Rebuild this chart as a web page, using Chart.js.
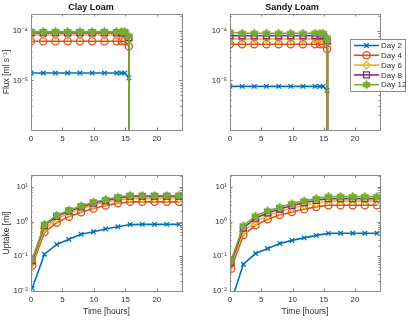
<!DOCTYPE html>
<html>
<head>
<meta charset="utf-8">
<script src="https://cdn.jsdelivr.net/npm/chart.js@4.4.0/dist/chart.umd.min.js"></script>
<style>
  html, body { margin: 0; padding: 0; background: #fff; }
  #wrap { position: relative; width: 408px; height: 321px; overflow: hidden; }
  canvas { position: absolute; }
</style>
</head>
<body>
<div id="wrap">
  <canvas id="fluxClay" width="204" height="160" style="left:0;top:0"></canvas>
  <canvas id="fluxSandy" width="204" height="160" style="left:204px;top:0"></canvas>
  <canvas id="uptakeClay" width="204" height="161" style="left:0;top:160px"></canvas>
  <canvas id="uptakeSandy" width="204" height="161" style="left:204px;top:160px"></canvas>
</div>
<script>
// ---- data ----
const dayLabels = ['Day 2', 'Day 4', 'Day 6', 'Day 8', 'Day 12'];
const xTickValues = [0, 5, 10, 15, 20];
const fluxTickValues = [1e-5, 1e-4];
const uptakeTickValues = [1e-2, 1e-1, 1, 10];

// hours; last entry is where the flux falls to zero
const fluxTimes = [0, 1.94, 3.89, 5.83, 7.78, 9.72, 11.67, 13.61, 14.4, 14.9, 15.55, 15.6];
const uptakeTimes = [0.19, 2.14, 4.08, 6.03, 7.97, 9.92, 11.86, 13.81, 15.75, 17.69, 19.64, 21.58, 23.53];

// flux [ml/s], clay loam
const clayFluxDay2  = [1.42e-5, 1.42e-5, 1.42e-5, 1.42e-5, 1.42e-5, 1.42e-5, 1.42e-5, 1.42e-5, 1.42e-5, 1.42e-5, 1.13e-5, 1e-9];
const clayFluxDay4  = [6.2e-5, 6.2e-5, 6.2e-5, 6.2e-5, 6.2e-5, 6.2e-5, 6.2e-5, 6.2e-5, 6.2e-5, 6.2e-5, 4.9e-5, 1e-9];
const clayFluxDay6  = [8.3e-5, 8.3e-5, 8.3e-5, 8.3e-5, 8.3e-5, 8.3e-5, 8.3e-5, 8.3e-5, 8.3e-5, 8.3e-5, 6.6e-5, 1e-9];
const clayFluxDay8  = [9.1e-5, 9.1e-5, 9.1e-5, 9.1e-5, 9.1e-5, 9.1e-5, 9.1e-5, 9.1e-5, 9.1e-5, 9.1e-5, 7.3e-5, 1e-9];
const clayFluxDay12 = [9.7e-5, 9.7e-5, 9.7e-5, 9.7e-5, 9.7e-5, 9.7e-5, 9.7e-5, 9.7e-5, 9.7e-5, 9.7e-5, 7.9e-5, 1e-9];

// flux [ml/s], sandy loam
const sandyFluxDay2  = [7.6e-6, 7.6e-6, 7.6e-6, 7.6e-6, 7.6e-6, 7.6e-6, 7.6e-6, 7.6e-6, 7.6e-6, 7.6e-6, 6.3e-6, 1e-9];
const sandyFluxDay4  = [5.4e-5, 5.4e-5, 5.4e-5, 5.4e-5, 5.4e-5, 5.4e-5, 5.4e-5, 5.4e-5, 5.4e-5, 5.4e-5, 4.3e-5, 1e-9];
const sandyFluxDay6  = [6.9e-5, 6.9e-5, 6.9e-5, 6.9e-5, 6.9e-5, 6.9e-5, 6.9e-5, 6.9e-5, 6.9e-5, 6.9e-5, 5.5e-5, 1e-9];
const sandyFluxDay8  = [8.0e-5, 8.0e-5, 8.0e-5, 8.0e-5, 8.0e-5, 8.0e-5, 8.0e-5, 8.0e-5, 8.0e-5, 8.0e-5, 6.3e-5, 1e-9];
const sandyFluxDay12 = [9.5e-5, 9.0e-5, 9.0e-5, 9.0e-5, 9.0e-5, 9.0e-5, 9.0e-5, 9.0e-5, 9.0e-5, 9.0e-5, 7.2e-5, 1e-9];

// cumulative uptake [ml], clay loam
const clayUptakeDay2  = [0.012, 0.115, 0.22, 0.31, 0.43, 0.51, 0.61, 0.71, 0.82, 0.83, 0.83, 0.83, 0.83];
const clayUptakeDay4  = [0.054, 0.49, 0.93, 1.39, 1.86, 2.37, 2.89, 3.39, 3.70, 3.70, 3.70, 3.70, 3.70];
const clayUptakeDay6  = [0.065, 0.62, 1.22, 1.75, 2.35, 3.0, 3.6, 4.2, 4.6, 4.6, 4.6, 4.6, 4.6];
const clayUptakeDay8  = [0.075, 0.76, 1.42, 2.0, 2.65, 3.4, 4.05, 4.75, 5.3, 5.3, 5.3, 5.3, 5.3];
const clayUptakeDay12 = [0.081, 0.84, 1.52, 2.13, 2.83, 3.62, 4.31, 5.06, 5.63, 5.63, 5.63, 5.63, 5.63];

// cumulative uptake [ml], sandy loam
const sandyUptakeDay2  = [0.005, 0.059, 0.12, 0.168, 0.235, 0.287, 0.34, 0.40, 0.458, 0.46, 0.46, 0.46, 0.46];
const sandyUptakeDay4  = [0.044, 0.41, 0.78, 1.17, 1.55, 1.90, 2.27, 2.65, 2.97, 2.97, 2.97, 2.97, 2.97];
const sandyUptakeDay6  = [0.055, 0.52, 1.0, 1.48, 1.95, 2.45, 2.95, 3.45, 3.9, 3.9, 3.9, 3.9, 3.9];
const sandyUptakeDay8  = [0.066, 0.65, 1.25, 1.78, 2.3, 2.9, 3.5, 4.1, 4.6, 4.6, 4.6, 4.6, 4.6];
const sandyUptakeDay12 = [0.077, 0.76, 1.45, 2.03, 2.6, 3.3, 3.95, 4.61, 5.27, 5.27, 5.27, 5.27, 5.27];

// ---- styling ----
const FONT = "'Liberation Sans', Arial, sans-serif";
const TEXT = '#303030';
const colors = ['#0072BD', '#D95319', '#EDB120', '#7E2F8E', '#77AC30'];

// filled hexagram for Day 12
function hexagram(color, r) {
    const c = document.createElement('canvas');
    const s = Math.ceil(r * 2 + 2);
    c.width = c.height = s;
    const g = c.getContext('2d');
    g.translate(s / 2, s / 2);
    g.fillStyle = color;
    g.strokeStyle = color;
    g.lineWidth = 1;
    g.beginPath();
    for (let k = 0; k < 12; k++) {
        const a = -Math.PI / 2 + k * Math.PI / 6;
        const rr = k % 2 ? r * 0.58 : r;
        g.lineTo(Math.cos(a) * rr, Math.sin(a) * rr);
    }
    g.closePath();
    g.fill();
    g.stroke();
    return c;
}

const markers = ['crossRot', 'circle', 'rectRot', 'rect', hexagram(colors[4], 4.2)];
const markerSizes = [3.2, 3.6, 3.8, 4.2, 4.5];

const SUP = { '-': '\u207B', '0': '\u2070', '1': '\u00B9', '2': '\u00B2', '3': '\u00B3',
    '4': '\u2074', '5': '\u2075', '6': '\u2076', '7': '\u2077', '8': '\u2078', '9': '\u2079' };
function powLabel(v) {
    const e = String(Math.round(Math.log10(v)));
    return '10' + e.split('').map(ch => SUP[ch]).join('');
}

// box with inward ticks, MATLAB style
const framePlugin = {
    id: 'frame',
    afterDraw(chart) {
        const { ctx, chartArea: a, scales: { x, y } } = chart;
        ctx.save();
        ctx.strokeStyle = '#8a8a8a';
        ctx.lineWidth = 1;
        ctx.strokeRect(Math.round(a.left) + 0.5, Math.round(a.top) + 0.5,
            Math.round(a.right - a.left), Math.round(a.bottom - a.top));
        ctx.beginPath();
        xTickValues.forEach(v => {
            const px = Math.round(x.getPixelForValue(v)) + 0.5;
            ctx.moveTo(px, a.bottom); ctx.lineTo(px, a.bottom - 2.5);
            ctx.moveTo(px, a.top); ctx.lineTo(px, a.top + 2.5);
        });
        const lo = Math.floor(Math.log10(y.min));
        const hi = Math.ceil(Math.log10(y.max));
        for (let e = lo; e <= hi; e++) {
            for (let m = 1; m < 10; m++) {
                const v = m * Math.pow(10, e);
                if (v < y.min || v > y.max) continue;
                const py = Math.round(y.getPixelForValue(v)) + 0.5;
                const len = m === 1 ? 2.8 : 1.6;
                ctx.moveTo(a.left, py); ctx.lineTo(a.left + len, py);
                ctx.moveTo(a.right, py); ctx.lineTo(a.right - len, py);
            }
        }
        ctx.stroke();
        ctx.restore();
    }
};

// legend box that sits over the right edge of the sandy loam flux panel
const legendPlugin = {
    id: 'dayLegend',
    afterDraw(chart) {
        const ctx = chart.ctx;
        const bx = 146, by = 39, bw = 55, bh = 52;
        ctx.save();
        ctx.fillStyle = '#fff';
        ctx.fillRect(bx, by, bw, bh);
        ctx.strokeStyle = '#8a8a8a';
        ctx.lineWidth = 1;
        ctx.strokeRect(bx + 0.5, by + 0.5, bw, bh);
        ctx.font = '8px ' + FONT;
        ctx.textBaseline = 'middle';
        dayLabels.forEach((lab, i) => {
            const ly = by + 6.5 + i * 9.8;
            ctx.strokeStyle = colors[i];
            ctx.lineWidth = 1.6;
            ctx.beginPath();
            ctx.moveTo(bx + 4, ly); ctx.lineTo(bx + 29, ly);
            ctx.stroke();
            ctx.lineWidth = 1.3;
            ctx.fillStyle = i === 4 ? colors[4] : 'rgba(0,0,0,0)';
            Chart.helpers.drawPoint(ctx, {
                pointStyle: markers[i], radius: markerSizes[i], rotation: 0, borderWidth: 1.3
            }, bx + 16.5, ly);
            ctx.fillStyle = TEXT;
            ctx.fillText(lab, bx + 31, ly + 0.5);
        });
        ctx.restore();
    }
};

function makePanel(id, cfg) {
    const datasets = cfg.series.map((vals, i) => ({
        label: dayLabels[i],
        data: cfg.times.map((t, j) => ({ x: t, y: vals[j] })),
        borderColor: colors[i],
        backgroundColor: i === 4 ? colors[4] : 'rgba(0,0,0,0)',
        pointBackgroundColor: i === 4 ? colors[4] : 'rgba(0,0,0,0)',
        pointBorderColor: colors[i],
        pointStyle: markers[i],
        pointRadius: markerSizes[i],
        pointBorderWidth: 1.3,
        borderWidth: 1.6,
        tension: 0,
        order: 4 - i
    }));

    const plugins = [framePlugin];
    if (cfg.legend) plugins.push(legendPlugin);

    return new Chart(document.getElementById(id), {
        type: 'line',
        data: { datasets },
        plugins,
        options: {
            responsive: false,
            animation: false,
            events: [],
            layout: { padding: { left: 0, right: cfg.padRight, top: cfg.title ? 0 : cfg.padTop, bottom: 0 } },
            plugins: {
                legend: { display: false },
                tooltip: { enabled: false },
                title: {
                    display: !!cfg.title,
                    text: cfg.title || '',
                    color: '#111',
                    font: { family: FONT, size: 9, weight: 'bold' },
                    padding: { top: 2, bottom: 1.2 }
                }
            },
            scales: {
                x: {
                    type: 'linear',
                    min: 0,
                    max: 24,
                    afterBuildTicks: s => { s.ticks = xTickValues.map(v => ({ value: v })); },
                    afterFit: s => { s.height = 30; },
                    grid: { display: false, drawTicks: false },
                    border: { display: false },
                    ticks: { color: TEXT, font: { family: FONT, size: 8 }, padding: 4, maxRotation: 0 },
                    title: {
                        display: !!cfg.xTitle,
                        text: cfg.xTitle || '',
                        color: TEXT,
                        font: { family: FONT, size: 8.5 },
                        padding: { top: 0, bottom: 4 }
                    }
                },
                y: {
                    type: 'logarithmic',
                    min: cfg.yMin,
                    max: cfg.yMax,
                    afterBuildTicks: s => { s.ticks = cfg.yTicks.map(v => ({ value: v })); },
                    afterFit: s => { s.width = cfg.yWidth; },
                    grid: { display: false, drawTicks: false },
                    border: { display: false },
                    ticks: {
                        color: TEXT,
                        font: { family: FONT, size: 8 },
                        padding: 3,
                        callback: v => powLabel(v)
                    },
                    title: {
                        display: !!cfg.yTitle,
                        text: cfg.yTitle || '',
                        color: TEXT,
                        font: { family: FONT, size: 8.5 },
                        padding: { top: 2, bottom: 0 }
                    }
                }
            }
        }
    });
}

makePanel('fluxClay', {
    times: fluxTimes,
    series: [clayFluxDay2, clayFluxDay4, clayFluxDay6, clayFluxDay8, clayFluxDay12],
    yMin: 1e-6, yMax: 2.2e-4, yTicks: fluxTickValues,
    title: 'Clay Loam', yTitle: 'Flux [ml s\u207B\u00B9]',
    yWidth: 31, padRight: 22
});
makePanel('fluxSandy', {
    times: fluxTimes,
    series: [sandyFluxDay2, sandyFluxDay4, sandyFluxDay6, sandyFluxDay8, sandyFluxDay12],
    yMin: 1e-6, yMax: 2.2e-4, yTicks: fluxTickValues,
    title: 'Sandy Loam', legend: true,
    yWidth: 26, padRight: 28
});
makePanel('uptakeClay', {
    times: uptakeTimes,
    series: [clayUptakeDay2, clayUptakeDay4, clayUptakeDay6, clayUptakeDay8, clayUptakeDay12],
    yMin: 0.01, yMax: 22, yTicks: uptakeTickValues,
    yTitle: 'Uptake [ml]', xTitle: 'Time [hours]',
    yWidth: 31, padRight: 22, padTop: 15
});
makePanel('uptakeSandy', {
    times: uptakeTimes,
    series: [sandyUptakeDay2, sandyUptakeDay4, sandyUptakeDay6, sandyUptakeDay8, sandyUptakeDay12],
    yMin: 0.01, yMax: 22, yTicks: uptakeTickValues,
    xTitle: 'Time [hours]',
    yWidth: 26, padRight: 28, padTop: 15
});
</script>
</body>
</html>
